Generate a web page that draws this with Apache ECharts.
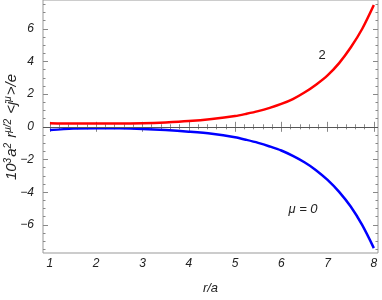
<!DOCTYPE html>
<html>
<head>
<meta charset="utf-8">
<script src="https://cdn.jsdelivr.net/npm/echarts@6/dist/echarts.min.js"></script>
<style>html,body{margin:0;padding:0;background:#fff;}#c{width:382px;height:300px;}</style>
</head>
<body>
<div id="c"></div>
<script>
// ---- data ----
const rValues = [1, 1.5, 2, 2.5, 3, 3.5, 4, 4.5, 5, 5.25, 5.5, 5.75, 6, 6.25, 6.5, 6.75, 7, 7.25, 7.5, 7.75, 8];
const mu2Values = [0.22, 0.2, 0.2, 0.2, 0.22, 0.27, 0.35, 0.48, 0.66, 0.8, 0.96, 1.16, 1.4, 1.7, 2.1, 2.58, 3.15, 3.9, 4.85, 6.0, 7.45];
const mu0Values = [-0.2, -0.11, -0.08, -0.09, -0.13, -0.2, -0.3, -0.43, -0.64, -0.8, -0.98, -1.2, -1.45, -1.78, -2.17, -2.65, -3.25, -3.98, -4.88, -6.02, -7.42];
const xTickLabels = [1, 2, 3, 4, 5, 6, 7, 8];
const yTickLabels = [-6, -4, -2, 0, 2, 4, 6];
const xMinorTicks = [];
for (let i = 0; i < xTickLabels.length - 1; i++) for (let k = 1; k < 5; k++) xMinorTicks.push(+(xTickLabels[i] + k * 0.2).toFixed(2));
const yMinorTicks = [-7.5, -7, -6.5, -5.5, -5, -4.5, -3.5, -3, -2.5, -1.5, -1, -0.5, 0.5, 1, 1.5, 2.5, 3, 3.5, 4.5, 5, 5.5, 6.5, 7, 7.5];
const X_MIN = 0.85, X_MAX = 8.09, Y_MIN = -7.72, Y_MAX = 7.76;

const FONT = 'Liberation Sans';
const TXT = '#222';

function axis(kind, position, ticks, len, labels) {
  const a = {
    type: 'value', position: position, gridIndex: 0,
    min: kind === 'x' ? X_MIN : Y_MIN, max: kind === 'x' ? X_MAX : Y_MAX,
    axisLine: {show: false},
    splitLine: {show: false},
    axisTick: {show: true, inside: true, length: len, customValues: ticks, lineStyle: {color: '#888', width: 1}},
    axisLabel: {show: false}
  };
  if (labels) {
    a.axisLabel = {
      show: true, customValues: labels, fontFamily: FONT, fontStyle: 'italic', fontSize: 12, color: TXT,
      margin: kind === 'x' ? 5 : 9,
      formatter: v => String(v).replace('-', '\u2212')
    };
  }
  return a;
}

const xAxes = [
  axis('x', 'bottom', xTickLabels, 5, xTickLabels),
  axis('x', 'bottom', xMinorTicks, 2.5, null),
  axis('x', 'top', xTickLabels, 5, null),
  axis('x', 'top', xMinorTicks, 2.5, null)
];
xAxes[0].name = 'r/a';
xAxes[0].nameLocation = 'middle';
xAxes[0].nameGap = 29;
xAxes[0].nameTextStyle = {fontFamily: FONT, fontStyle: 'italic', fontSize: 13, color: TXT};

const yAxes = [
  axis('y', 'left', yTickLabels, 5, yTickLabels),
  axis('y', 'left', yMinorTicks, 2.5, null),
  axis('y', 'right', yTickLabels, 5, null),
  axis('y', 'right', yMinorTicks, 2.5, null)
];

const chart = echarts.init(document.getElementById('c'), null, {renderer: 'canvas'});
chart.setOption({
  animation: false,
  backgroundColor: '#fff',
  grid: {left: 43, right: 4, top: 0, bottom: 42, show: true, borderColor: '#999', borderWidth: 1, backgroundColor: 'transparent'},
  xAxis: xAxes,
  yAxis: yAxes,
  series: [
    {
      type: 'line', name: '2', data: rValues.map((r, i) => [r, mu2Values[i]]),
      xAxisIndex: 0, yAxisIndex: 0, showSymbol: false, smooth: 0.3,
      lineStyle: {color: '#ff0000', width: 2.5},
      markLine: {
        silent: true, symbol: 'none', label: {show: false},
        lineStyle: {color: '#555', width: 1, type: 'solid'},
        data: [{yAxis: 0}]
      },
      z: 3
    },
    {
      type: 'line', name: 'μ = 0', data: rValues.map((r, i) => [r, mu0Values[i]]),
      xAxisIndex: 0, yAxisIndex: 0, showSymbol: false, smooth: 0.3,
      lineStyle: {color: '#0000ff', width: 2.5}, z: 3
    }
  ],
  graphic: [
    {
      type: 'text', x: 12, y: 127, rotation: Math.PI / 2, silent: true,
      style: {
        text: '10{s|3}a{s|2} r{s|μ/2} <j{s|μ}>/e',
        fontFamily: FONT, fontStyle: 'italic', fontSize: 15, fill: TXT,
        align: 'center', verticalAlign: 'middle',
        rich: {s: {fontFamily: FONT, fontStyle: 'italic', fontSize: 10, fill: TXT, padding: [0, 1, 8, 0]}}
      }
    },
    {
      type: 'text', x: 322, y: 55, silent: true,
      style: {text: '2', fontFamily: FONT, fontSize: 13, fill: TXT, align: 'center', verticalAlign: 'middle'}
    },
    {
      type: 'text', x: 303, y: 209, silent: true,
      style: {text: 'μ = 0', fontFamily: FONT, fontStyle: 'italic', fontSize: 13, fill: TXT, align: 'center', verticalAlign: 'middle'}
    }
  ]
});
</script>
</body>
</html>
